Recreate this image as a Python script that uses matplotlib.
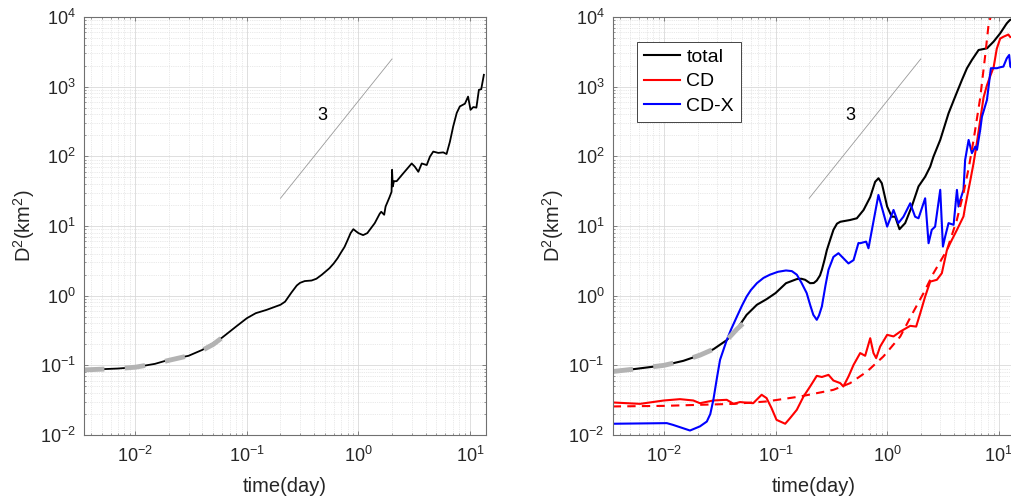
"""Mean square separation D^2 vs time, two log-log panels."""

import matplotlib
matplotlib.use("Agg")
import matplotlib.pyplot as plt
from matplotlib.ticker import FixedLocator, LogFormatterSciNotation, LogLocator, NullFormatter

plt.rcParams["font.family"] = ["Liberation Sans", "DejaVu Sans"]
plt.rcParams["mathtext.fontset"] = "custom"
plt.rcParams["mathtext.rm"] = "Liberation Sans"
plt.rcParams["mathtext.it"] = "Liberation Sans:italic"
plt.rcParams["mathtext.bf"] = "Liberation Sans:bold"

# ---- left panel: total dispersion -------------------------------------
t_left = [0.00347, 0.005, 0.007, 0.01, 0.015, 0.02, 0.03, 0.04, 0.06, 0.08,
          0.1, 0.12, 0.15, 0.2, 0.22, 0.25, 0.28, 0.3, 0.33, 0.38,
          0.42, 0.47, 0.55, 0.6, 0.65, 0.7, 0.75, 0.8, 0.85, 0.9,
          0.95, 1.0, 1.1, 1.2, 1.4, 1.55, 1.6, 1.7, 1.75, 1.9,
          1.98, 2.0, 2.03, 2.08, 2.2, 2.52, 3.0, 3.2, 3.44, 3.69,
          4.09, 4.37, 4.68, 5.19, 5.75, 6.16, 6.6, 7.07, 7.6, 8.1,
          9.0, 9.6, 10.1, 10.7, 11.4, 12.0, 12.6, 13.3]
d2_left = [0.086, 0.088, 0.090, 0.094, 0.105, 0.12, 0.137, 0.167, 0.25, 0.36,
           0.475, 0.56, 0.625, 0.74, 0.82, 1.1, 1.4, 1.53, 1.62, 1.65,
           1.75, 2.0, 2.48, 2.9, 3.45, 4.2, 5.0, 6.3, 7.9, 9.0,
           8.4, 7.9, 7.4, 7.9, 11, 15, 16, 14.5, 19, 26,
           31, 64, 37, 44, 44, 57, 79, 71, 60, 79,
           75, 99, 117, 112, 114, 108, 162, 270, 420, 520,
           570, 720, 465, 510, 500, 900, 920, 1480]

t_fit_left = [0.00347, 0.005, 0.007, 0.01, 0.015, 0.02, 0.03, 0.04, 0.05, 0.06]
d2_fit_left = [0.086, 0.088, 0.090, 0.094, 0.105, 0.118, 0.137, 0.165, 0.2, 0.25]

# ---- right panel: total, CD and CD-X ----------------------------------
t_total = [0.00347, 0.0053, 0.01, 0.0149, 0.021, 0.0277, 0.0365, 0.045, 0.055, 0.068,
           0.083, 0.1, 0.124, 0.155, 0.17, 0.184, 0.204, 0.22, 0.234, 0.25,
           0.26, 0.275, 0.288, 0.31, 0.33, 0.355, 0.38, 0.466, 0.535, 0.615,
           0.705, 0.78, 0.836, 0.896, 1.0, 1.1, 1.18, 1.29, 1.45, 1.66,
           1.91, 2.19, 2.43, 2.6, 2.99, 3.55, 4.07, 4.68, 5.19, 5.75,
           6.6, 7.84, 8.99, 10.3, 11.8, 12.6, 13.5]
d2_total = [0.0815, 0.088, 0.10, 0.116, 0.14, 0.17, 0.23, 0.33, 0.53, 0.74,
            0.89, 1.09, 1.51, 1.73, 1.75, 1.69, 1.51, 1.52, 1.65, 1.95,
            2.35, 3.3, 4.5, 6.5, 8.8, 10.8, 11.5, 12.2, 12.9, 17,
            26, 43, 48.5, 41, 19, 13.6, 13.6, 9.0, 11, 19,
            37, 51, 71, 99, 172, 415, 720, 1250, 1840, 2420,
            3360, 3550, 4430, 5830, 8100, 9060, 9500]

t_fit_right = [0.00347, 0.0053, 0.01, 0.0149, 0.021, 0.0277, 0.0365, 0.045, 0.053]
d2_fit_right = [0.0815, 0.088, 0.10, 0.116, 0.14, 0.17, 0.23, 0.33, 0.42]

t_cd = [0.00347, 0.0061, 0.01, 0.0139, 0.0183, 0.021, 0.0277, 0.0365, 0.042, 0.048,
        0.063, 0.075, 0.083, 0.092, 0.102, 0.122, 0.135, 0.155, 0.178, 0.204,
        0.234, 0.26, 0.298, 0.33, 0.38, 0.405, 0.45, 0.5, 0.573, 0.635,
        0.705, 0.754, 0.797, 0.865, 1.0, 1.14, 1.31, 1.61, 1.82, 1.98,
        2.19, 2.43, 2.79, 3.09, 3.43, 3.67, 4.22, 4.83, 5.0, 5.56,
        5.95, 6.38, 6.82, 7.31, 7.84, 8.5, 9.0, 9.6, 10.3, 11.0,
        12.2, 12.6, 13.5]
d2_cd = [0.0293, 0.028, 0.0313, 0.0327, 0.0313, 0.0286, 0.0313, 0.032, 0.028, 0.0297,
         0.0286, 0.0378, 0.0339, 0.0243, 0.0165, 0.0145, 0.0175, 0.023, 0.0357, 0.0497,
         0.0706, 0.068, 0.073, 0.0605, 0.0555, 0.0497, 0.069, 0.1016, 0.15, 0.137,
         0.245, 0.15, 0.127, 0.186, 0.274, 0.26, 0.305, 0.369, 0.36, 0.56,
         0.97, 1.59, 1.69, 2.1, 4.5, 5.66, 8.8, 13.7, 19, 45,
         80, 160, 330, 700, 1050, 1500, 1900, 3500, 4900, 5200,
         5600, 5200, 5000]

t_cd_fit = [0.00347, 0.01, 0.042, 0.083, 0.166, 0.33, 0.466, 0.66, 0.925, 1.31,
            1.72, 2.12, 2.6, 3.43, 4.2, 4.83, 5.4, 5.95, 6.82, 7.57,
            8.1, 8.5, 8.7]
d2_cd_fit = [0.0257, 0.0262, 0.028, 0.0303, 0.0357, 0.0445, 0.0555, 0.0815, 0.134, 0.259,
             0.59, 1.09, 2.1, 4.5, 12, 29.5, 70, 172, 690, 2850,
             7700, 10300, 13000]

t_cdx = [0.00347, 0.0106, 0.012, 0.0171, 0.021, 0.0242, 0.026, 0.0277, 0.03, 0.0318,
         0.0365, 0.04, 0.045, 0.05, 0.055, 0.06, 0.068, 0.078, 0.089, 0.105,
         0.124, 0.14, 0.155, 0.17, 0.19, 0.205, 0.218, 0.234, 0.245, 0.26,
         0.28, 0.298, 0.33, 0.366, 0.405, 0.45, 0.5, 0.553, 0.573, 0.648,
         0.68, 0.835, 1.0, 1.14, 1.26, 1.40, 1.61, 1.78, 1.91, 2.19,
         2.35, 2.51, 2.69, 2.99, 3.16, 3.31, 3.55, 3.94, 4.22, 4.36,
         4.52, 4.83, 5.0, 5.37, 5.75, 6.16, 6.38, 6.82, 7.07, 7.84,
         8.5, 9.63, 10.3, 11.0, 11.8, 12.4, 12.7, 13.5]
d2_cdx = [0.0145, 0.0148, 0.014, 0.0116, 0.0133, 0.0156, 0.02, 0.032, 0.07, 0.12,
          0.23, 0.33, 0.5, 0.72, 0.97, 1.2, 1.51, 1.8, 2.0, 2.2,
          2.3, 2.25, 2.0, 1.55, 1.09, 0.72, 0.53, 0.45, 0.52, 0.7,
          1.4, 2.35, 3.6, 4.07, 3.45, 2.9, 3.24, 5.7, 5.66, 5.97,
          4.79, 27.9, 9.8, 17, 11, 13.6, 21.2, 13.6, 12.9, 25,
          5.66, 8.8, 9.8, 33, 5.07, 7.05, 11, 10.4, 33, 19,
          23.7, 33, 89, 172, 111, 138, 124, 240, 370, 645,
          1840, 1840, 1900, 1940, 2550, 2850, 1940, 1800]

# reference power-law segment and its label
t_ref = [0.2, 2.0]
d2_ref = [25, 2500]
ref_label = "3"
ref_label_pos = (0.47, 390)

x_lim = (0.00347, 13.9)
y_lim = (1e-2, 1e4)
x_major = [1e-2, 1e-1, 1e0, 1e1]
y_major = [1e-2, 1e-1, 1e0, 1e1, 1e2, 1e3, 1e4]

TEXT = "#262626"
EDGE = "#707070"


def style_axes(ax):
    ax.set_xscale("log")
    ax.set_yscale("log")
    ax.set_xlim(*x_lim)
    ax.set_ylim(*y_lim)
    ax.xaxis.set_major_locator(FixedLocator(x_major))
    ax.yaxis.set_major_locator(FixedLocator(y_major))
    ax.xaxis.set_major_formatter(LogFormatterSciNotation())
    ax.yaxis.set_major_formatter(LogFormatterSciNotation())
    ax.xaxis.set_minor_locator(LogLocator(base=10, subs=range(2, 10), numticks=20))
    ax.yaxis.set_minor_locator(LogLocator(base=10, subs=range(2, 10), numticks=20))
    ax.xaxis.set_minor_formatter(NullFormatter())
    ax.yaxis.set_minor_formatter(NullFormatter())
    ax.grid(True, which="major", color="#d9d9d9", lw=0.6, ls="-")
    ax.grid(True, which="minor", color="#d4d4d4", lw=0.5, ls=":")
    ax.set_axisbelow(True)
    for sp in ax.spines.values():
        sp.set_color(EDGE)
        sp.set_linewidth(0.8)
    ax.tick_params(which="both", direction="in", top=True, right=True,
                   color=EDGE, labelcolor=TEXT, labelsize=13)
    ax.tick_params(which="major", length=3.2, width=0.6)
    ax.tick_params(which="minor", length=1.6, width=0.5,
                   labelbottom=False, labelleft=False)
    ax.tick_params(axis="x", pad=8)
    ax.tick_params(axis="y", pad=6)
    ax.set_xlabel("time(day)", fontsize=14.5, color=TEXT)
    ax.set_ylabel("D$^2$(km$^2$)", fontsize=14.5, color=TEXT)
    ax.xaxis.set_label_coords(0.5, -0.1)
    ax.yaxis.set_label_coords(-0.117, 0.5)
    ax.plot(t_ref, d2_ref, color="#999999", lw=0.6)
    ax.text(*ref_label_pos, ref_label, fontsize=13, color="black",
            ha="center", va="center")


fig = plt.figure(figsize=(10.11, 5.04), dpi=100)
W, H = 1011.0, 504.0
ax1 = fig.add_axes([84 / W, 69 / H, 402 / W, 418 / H])
ax2 = fig.add_axes([612.7 / W, 69 / H, 402 / W, 418 / H])

fit_style = dict(color="#b3b3b3", lw=3.5, ls=(0, (4.2, 4.2)),
                 dash_capstyle="butt")

style_axes(ax1)
ax1.plot(t_left, d2_left, color="black", lw=1.3)
ax1.plot(t_fit_left, d2_fit_left, **fit_style)

style_axes(ax2)
ax2.plot(t_total, d2_total, color="black", lw=1.5, label="total")
ax2.plot(t_cd, d2_cd, color="#ff0000", lw=1.5, label="CD")
ax2.plot(t_cdx, d2_cdx, color="#0000ff", lw=1.5, label="CD-X")
ax2.plot(t_cd_fit, d2_cd_fit, color="#ff0000", lw=1.5, ls=(0, (4, 3)))
ax2.plot(t_fit_right, d2_fit_right, **fit_style)

leg = ax2.legend(loc="upper left", bbox_to_anchor=(0.0597, 0.941),
                 borderaxespad=0, fontsize=14, frameon=True, fancybox=False,
                 framealpha=1, edgecolor="#262626", handlelength=1.9,
                 handletextpad=0.3, labelspacing=0.35, borderpad=0.35)
leg.get_frame().set_linewidth(0.6)

fig.savefig("out.png", dpi=100)
plt.close(fig)
